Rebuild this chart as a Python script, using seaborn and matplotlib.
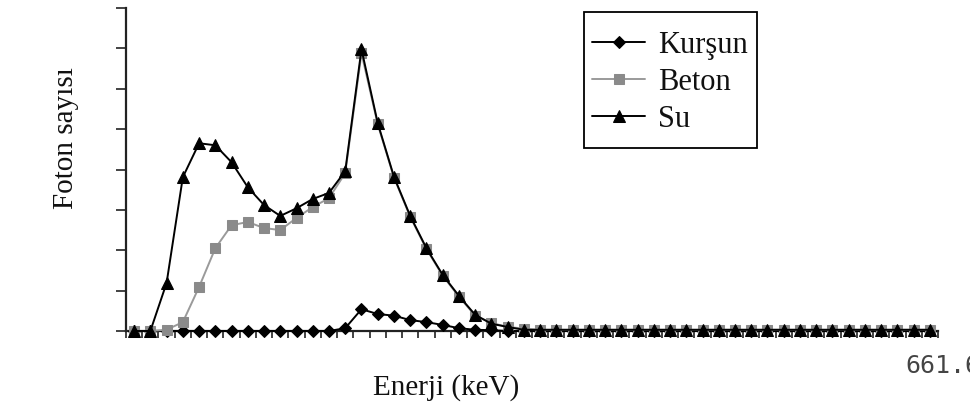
import numpy as np
import pandas as pd
import matplotlib
matplotlib.use("Agg")
import matplotlib.pyplot as plt
import seaborn as sns
from matplotlib.transforms import Bbox
from matplotlib.patches import Rectangle

# Energy channels (equal-width bins up to the 661.6 keV photopeak)
channels = list(range(1, 51))

# Photon counts per channel for each shielding material (relative units)
kursun = [0, 0, 0, 0, 0, 0, 0, 0, 0, 0, 0, 0, 0,
          0.07, 0.54, 0.42, 0.38, 0.27, 0.22, 0.15, 0.07, 0.03, 0.02] + [0] * 27
beton = [0, 0, 0.03, 0.22, 1.09, 2.05, 2.62, 2.70, 2.55, 2.50, 2.80, 3.07, 3.29,
         3.91, 6.88, 5.12, 3.80, 2.83, 2.03, 1.37, 0.85, 0.38, 0.20, 0.10, 0.06] + [0.03] * 25
su = [0, 0, 1.19, 3.81, 4.65, 4.60, 4.18, 3.56, 3.12, 2.85, 3.04, 3.27, 3.42,
      3.96, 6.98, 5.15, 3.82, 2.85, 2.05, 1.39, 0.87, 0.40, 0.18, 0.10] + [0.03] * 26

series_names = ["Kurşun", "Beton", "Su"]
end_label = "661.6"
x_label = "Enerji (keV)"
y_label = "Foton sayısı"

sns.set_theme(style="white")
plt.rcParams["font.family"] = ["Liberation Serif", "DejaVu Serif"]

W, H = 980, 409
fig = plt.figure(figsize=(W / 100, H / 100), dpi=100)
ax = fig.add_axes([126 / W, 1 - 331 / H, 812 / W, 323 / H])

df = pd.DataFrame({
    "kanal": np.arange(len(channels)),
    "Kurşun": kursun,
    "Beton": beton,
    "Su": su,
})

styles = {
    "Kurşun": dict(color="black", marker="D", markersize=6.5, mfc="black", mec="black"),
    "Beton": dict(color="#9a9a9a", marker="s", markersize=7, mfc="#8a8a8a", mec="#8a8a8a"),
    "Su": dict(color="black", marker="^", markersize=9, mfc="black", mec="black"),
}
for name in series_names:
    st = styles[name]
    sns.lineplot(data=df, x="kanal", y=name, ax=ax, color=st["color"],
                 marker=st["marker"], markersize=st["markersize"],
                 markerfacecolor=st["mfc"], markeredgecolor=st["mec"],
                 linewidth=1.4, label=name, clip_on=False, zorder=3)

ax.set_xlim(-0.5, len(channels) - 0.5)
ax.set_ylim(0, 8)
ax.set_xticks(np.arange(-0.5, len(channels), 1.0))
ax.set_yticks(np.arange(0, 9, 1))
ax.set_xticklabels([])
ax.set_yticklabels([])
ax.set_xlabel("")
ax.set_ylabel("")
for s in ["top", "right"]:
    ax.spines[s].set_visible(False)
for s in ["left", "bottom"]:
    ax.spines[s].set_color("#222222")
    ax.spines[s].set_linewidth(1.6)
ax.tick_params(axis="x", direction="out", length=5, width=1.2, color="#222222", bottom=True)
ax.tick_params(axis="y", direction="out", length=7, width=1.2, color="#222222", left=True)
ax.grid(False)

# Legend entries without a frame; the box is drawn separately around them
leg = ax.legend(loc="upper left", bbox_to_anchor=(592 / W, 1 - 30.5 / H),
                bbox_transform=fig.transFigure, borderaxespad=0,
                frameon=False, prop={"family": ["Liberation Serif"], "size": 22},
                handlelength=1.75, handletextpad=0.4, labelspacing=0.265,
                borderpad=0, numpoints=1)
for t in leg.get_texts():
    t.set_color("#111111")
fig.add_artist(Rectangle((584 / W, 1 - 148 / H), (757 - 584) / W, (148 - 12) / H,
                         transform=fig.transFigure, fill=False,
                         edgecolor="black", linewidth=1.3))

fig.text(446 / W, 1 - 395 / H, x_label, ha="center", va="baseline",
         fontsize=21, color="#111111")
fig.text(66 / W, 1 - 138 / H, y_label, ha="center", va="center", rotation=90,
         fontsize=21, color="#111111")
t = fig.text(905 / W, 1 - 373 / H, end_label, ha="left", va="baseline",
             fontsize=18, color="#444444", family="DejaVu Sans Mono")
t.set_clip_box(Bbox.from_extents(0, 0, 970, H))
t.set_clip_on(True)

fig.savefig("out.png", dpi=100)
